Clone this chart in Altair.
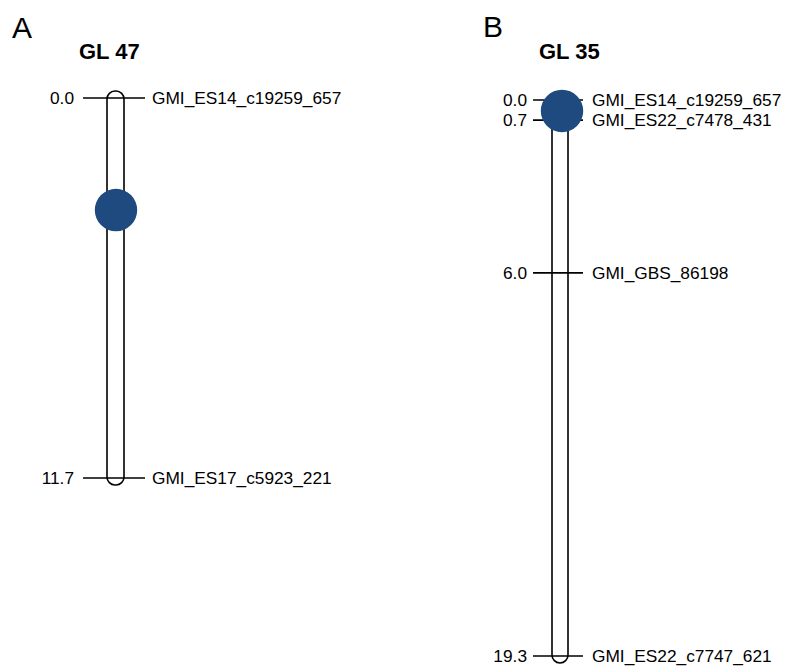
import altair as alt
import pandas as pd

# ---- data ----
panel_letters = ["A", "B"]
panel_titles = ["GL 47", "GL 35"]

a_positions = [0.0, 11.7]
a_markers = ["GMI_ES14_c19259_657", "GMI_ES17_c5923_221"]

b_positions = [0.0, 0.7, 6.0, 19.3]
b_markers = ["GMI_ES14_c19259_657", "GMI_ES22_c7478_431",
             "GMI_GBS_86198", "GMI_ES22_c7747_621"]

qtl_positions = [3.45, 0.38]

FONT = "Liberation Sans"
BLUE = "#1f4a7f"
LABEL_SIZE = 17.3


def panel(positions, markers, qtl, letter, title, y_range,
          chrom_x, tick_x, left_x, right_x, qtl_x, letter_xy, title_xy):
    df = pd.DataFrame({
        "pos": positions,
        "marker": markers,
        "label": [f"{p:.1f}" for p in positions],
    })
    chrom = pd.DataFrame({"pos": [min(positions)], "end": [max(positions)]})
    q = pd.DataFrame({"pos": [qtl]})
    txt = pd.DataFrame({"letter": [letter], "title": [title]})

    yscale = alt.Scale(domain=[0, max(positions)], range=y_range)
    y = alt.Y("pos:Q", scale=yscale, axis=None)

    body = alt.Chart(chrom).mark_rect(
        fill="white", stroke="black", strokeWidth=1.6,
        cornerRadius=8, yOffset=-7, y2Offset=7
    ).encode(
        y=y, y2="end:Q",
        x=alt.value(chrom_x[0]), x2=alt.value(chrom_x[1]),
    )
    ticks = alt.Chart(df).mark_rule(color="black", strokeWidth=1.6).encode(
        y=y, x=alt.value(tick_x[0]), x2=alt.value(tick_x[1])
    )
    left = alt.Chart(df).mark_text(
        align="right", baseline="middle", font=FONT, fontSize=LABEL_SIZE,
        color="black", dy=1
    ).encode(y=y, x=alt.value(left_x), text="label:N")
    right = alt.Chart(df).mark_text(
        align="left", baseline="middle", font=FONT, fontSize=LABEL_SIZE,
        color="black", dy=1
    ).encode(y=y, x=alt.value(right_x), text="marker:N")
    dot = alt.Chart(q).mark_circle(color=BLUE, opacity=1, size=1800).encode(
        y=y, x=alt.value(qtl_x)
    )
    let = alt.Chart(txt).mark_text(
        align="left", baseline="alphabetic", font=FONT, fontSize=30,
        color="black"
    ).encode(x=alt.value(letter_xy[0]), y=alt.value(letter_xy[1]),
             text="letter:N")
    ttl = alt.Chart(txt).mark_text(
        align="left", baseline="alphabetic", font=FONT, fontSize=22,
        fontWeight="bold", color="black"
    ).encode(x=alt.value(title_xy[0]), y=alt.value(title_xy[1]),
             text="title:N")
    return alt.layer(body, ticks, left, right, dot, let, ttl)


pa = panel(a_positions, a_markers, qtl_positions[0], panel_letters[0],
           panel_titles[0], [90, 470], (99, 116), (75, 137), 66, 144, 108,
           (4, 30), (71, 51))
pb = panel(b_positions, b_markers, qtl_positions[1], panel_letters[1],
           panel_titles[1], [92, 648], (544, 560), (525, 575), 519, 584, 554,
           (475, 29), (531, 51))

chart = alt.layer(pa, pb).resolve_scale(y="independent").properties(
    width=775, height=660, padding=0,
    autosize=alt.AutoSizeParams(type="none"),
).configure_view(stroke=None)

chart.save("out.html", embed_options={"renderer": "svg", "actions": False})
